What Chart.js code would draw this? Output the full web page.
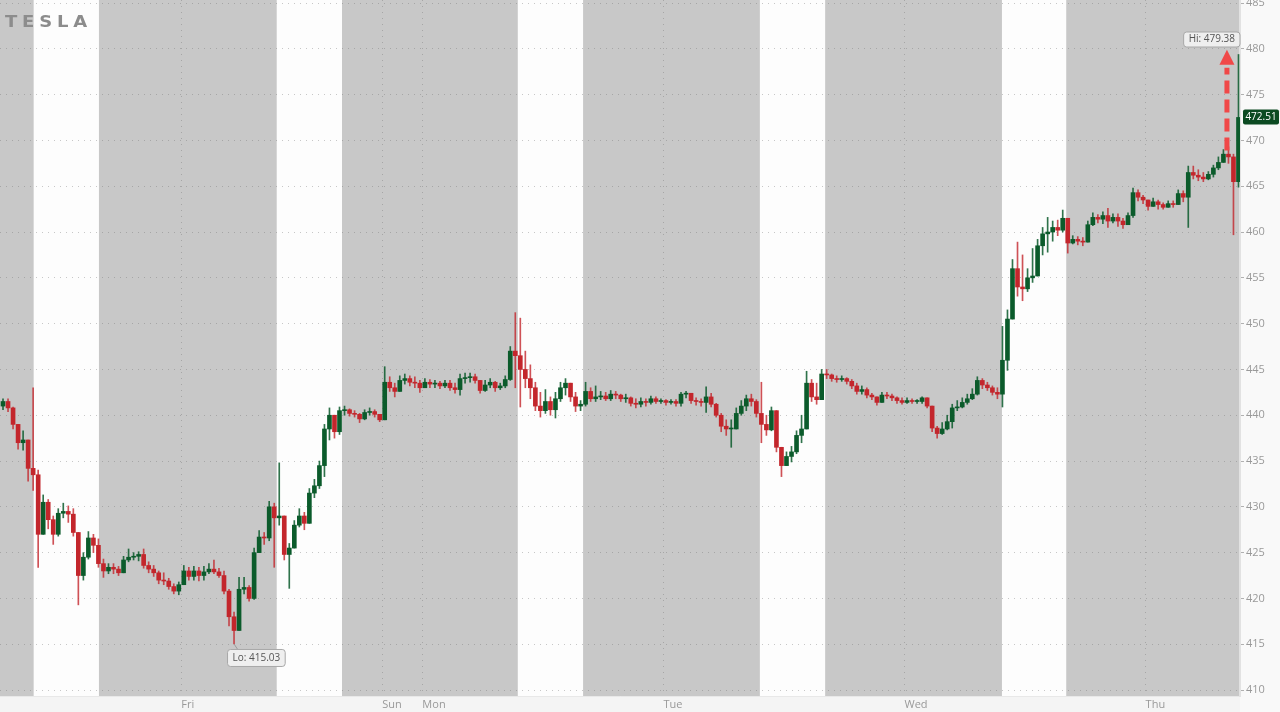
<!DOCTYPE html>
<html><head><meta charset="utf-8">
<script src="https://cdn.jsdelivr.net/npm/chart.js@4.4.1/dist/chart.umd.min.js"></script>
<style>
html,body{margin:0;padding:0;background:#f8f8f8;overflow:hidden;}
#wrap{position:relative;width:1280px;height:712px;}
#logo{position:absolute;left:5px;top:15px;font:700 15px/15px "DejaVu Sans",sans-serif;letter-spacing:4px;color:#8c8c8c;transform:scaleX(1.2);transform-origin:0 0;white-space:nowrap;}
</style></head><body>
<div id="wrap"><canvas id="c" width="1280" height="712"></canvas><div id="logo">TESLA</div></div>
<script>
// ---- data (30-minute candles, compressed trading hours; t=0 = Thursday 00:00 of previous week, weekend removed)
const startHour = 6, stepHours = 0.5, firstOpen = 441.0;
const closes = [
441.5,440.8,439.0,437.0,437.3,434.2,433.5,427.0,430.5,428.6,
427.0,429.3,429.5,429.2,427.2,422.5,424.5,426.6,425.8,423.8,
423.0,423.4,423.2,422.8,424.2,424.5,424.6,424.8,423.6,423.2,
422.8,422.0,421.9,421.3,420.8,421.5,423.0,422.4,423.0,422.5,
422.9,423.2,422.9,422.5,420.8,418.0,416.5,421.0,421.2,420.0,
425.0,426.7,426.6,430.0,428.8,429.0,424.8,425.5,428.0,429.0,
428.2,431.5,432.3,434.5,438.5,440.0,438.2,440.5,440.6,440.2,
440.1,439.6,440.3,440.4,440.1,439.5,443.6,443.0,442.6,443.8,
444.0,443.6,443.5,443.0,443.6,443.4,443.5,443.2,443.5,443.0,
442.8,444.0,444.1,444.2,443.8,442.7,443.3,443.6,443.0,443.2,
443.9,447.0,446.5,445.0,444.0,443.0,441.0,440.5,441.5,440.6,
441.8,443.0,443.5,442.0,441.0,441.2,442.6,441.8,442.0,442.1,
441.8,442.3,442.2,441.8,441.9,441.3,441.2,441.5,441.4,441.8,
441.5,441.6,441.4,441.5,441.3,442.3,442.4,441.6,441.5,441.4,
442.0,441.2,440.0,438.8,438.5,438.5,440.2,441.0,441.8,441.5,
440.2,439.0,438.4,440.5,436.5,434.5,435.5,436.0,437.8,438.5,
443.5,442.0,441.7,444.5,444.4,444.0,443.9,444.0,443.7,443.2,
442.6,442.8,442.2,442.0,441.4,442.2,442.1,441.9,441.6,441.4,
441.6,441.5,441.5,441.9,441.0,438.6,438.0,438.5,439.3,440.8,
440.9,441.4,441.8,442.3,443.8,443.3,443.0,442.5,442.3,446.0,
450.5,456.0,454.0,453.8,455.0,455.2,458.5,459.8,460.0,460.5,
460.2,461.5,458.8,459.2,459.0,458.9,460.8,461.6,461.4,461.8,
461.2,461.6,461.2,460.8,461.8,464.3,463.8,463.5,462.8,463.3,
463.0,462.7,463.1,463.0,464.2,463.8,466.5,466.2,466.0,465.8,
466.3,467.0,467.6,468.5,468.2,465.5,472.51];
const highs = [
441.8,441.8,440.9,439.0,438.3,436.0,443.0,434.0,431.3,430.8,
429.0,429.8,430.4,430.1,429.8,427.2,425.0,427.3,427.0,426.5,
424.3,423.8,423.8,423.5,424.6,425.4,425.0,425.1,425.4,424.0,
423.6,423.0,422.8,422.2,421.6,421.8,423.6,423.4,423.5,423.4,
423.5,423.8,424.2,423.3,423.0,421.0,418.5,422.3,422.3,421.4,
425.5,427.4,427.2,430.6,430.4,434.8,429.0,426.0,428.5,429.8,
429.4,432.0,433.0,435.0,439.0,440.8,440.0,440.9,441.0,440.7,
440.5,440.2,440.6,440.8,440.6,440.1,445.3,444.2,443.5,444.3,
444.5,444.3,444.2,443.8,444.0,443.9,443.8,443.7,443.8,443.8,
443.5,444.5,444.6,444.6,444.5,443.8,443.8,444.0,443.7,443.5,
444.3,447.5,451.2,450.6,447.0,445.5,443.6,442.5,442.8,442.0,
442.5,443.6,444.0,443.3,442.5,441.6,443.6,443.0,443.2,442.6,
442.5,442.7,442.6,442.3,442.3,442.0,441.8,441.9,441.8,442.1,
442.0,441.8,441.7,441.7,441.7,442.5,442.6,442.2,441.9,441.8,
443.1,442.4,441.3,440.2,439.5,439.5,440.8,441.6,442.2,442.3,
441.7,443.6,440.0,440.9,440.0,436.4,436.0,436.6,438.3,440.0,
444.8,443.9,443.5,445.0,445.0,444.5,444.3,444.3,444.1,443.9,
443.5,443.2,443.0,442.4,442.0,442.5,442.5,442.3,442.0,441.9,
441.9,441.8,441.7,442.0,441.9,441.0,438.8,439.2,440.0,441.2,
441.6,441.9,442.3,442.9,444.2,444.0,443.6,443.2,443.0,449.7,
451.5,457.0,458.9,457.5,456.0,458.2,459.2,460.5,461.6,461.2,
461.3,462.4,461.2,459.6,459.5,459.4,461.2,462.1,461.9,462.2,
462.6,462.0,462.0,461.5,462.1,464.8,464.6,464.0,463.5,463.7,
463.5,463.2,463.4,463.4,464.6,464.5,467.2,467.2,466.8,466.5,
466.6,467.3,468.2,469.0,469.3,468.5,479.38];
const lows = [
440.6,440.4,438.5,436.3,436.2,432.8,431.8,423.4,427.5,427.6,
425.9,426.8,428.8,428.3,426.8,419.3,422.0,424.3,425.0,423.4,
422.3,422.7,422.7,422.5,422.9,424.0,424.2,424.1,423.3,422.8,
422.4,421.6,421.5,421.0,420.5,420.4,421.8,422.0,422.0,421.9,
422.0,422.7,422.7,422.3,420.5,417.0,415.03,416.5,420.5,419.7,
419.9,425.0,425.9,426.3,423.4,428.0,424.2,421.1,425.5,427.8,
427.5,429.5,431.0,432.0,433.3,437.3,437.5,437.9,440.0,439.9,
439.8,439.2,439.5,440.0,439.8,439.3,439.5,442.6,442.0,442.6,
443.4,443.2,443.0,442.5,443.0,443.0,443.0,442.9,443.0,442.7,
442.4,442.2,443.5,443.6,443.5,442.4,442.6,443.0,442.6,442.8,
443.0,443.8,443.0,440.9,443.0,441.8,440.5,439.8,440.2,440.0,
439.7,441.5,442.2,441.5,440.4,440.5,441.0,441.5,441.5,441.7,
441.6,441.6,441.8,441.5,441.4,441.0,440.8,440.9,441.0,441.2,
441.3,441.3,441.1,441.2,441.0,441.0,441.9,441.3,441.1,441.0,
440.3,440.9,439.8,438.2,437.8,436.5,438.5,440.0,440.5,441.0,
439.8,437.0,437.8,438.3,436.0,433.3,434.5,434.9,435.8,437.0,
438.5,441.5,441.2,441.7,444.0,443.7,443.6,443.7,443.4,442.9,
442.3,442.3,441.9,441.7,441.1,441.4,441.8,441.6,441.3,441.2,
441.3,441.3,441.3,441.3,440.8,438.2,437.5,437.9,438.4,438.6,
440.5,440.8,441.2,441.7,442.2,442.9,442.7,442.2,441.8,440.9,
444.9,450.5,453.0,452.5,453.5,454.5,455.2,457.5,457.8,459.0,
459.6,460.0,457.7,458.7,458.6,458.5,458.9,460.7,461.0,460.9,
460.5,461.0,460.6,460.4,460.8,461.6,463.4,463.1,462.4,462.8,
462.5,462.5,462.7,462.7,463.0,463.3,460.5,465.8,465.6,465.5,
465.7,466.0,466.8,467.6,467.5,459.7,464.9];

// regular sessions (white bands), in compressed hours
const sessionStarts = [9.3, 33.5, 57.5, 81.6, 105.7];
const sessionEnds   = [15.8, 40, 64, 88.1, 112.1];
// day ticks
const dayTickHours  = [24, 44, 48, 72, 96, 120];
const dayTickLabels = ['Fri', 'Sun', 'Mon', 'Tue', 'Wed', 'Thu'];
const yTickStep = 5;
// callouts
const lowValue = 415.03, highValue = 479.38, lastPrice = 472.51;
const arrowHour = 128.1, arrowFrom = 468.9, arrowTo = 479.9;

// ---- build datasets
const opens = closes.map((c, i) => i === 0 ? firstOpen : closes[i - 1]);
const hours = closes.map((c, i) => startHour + stepHours * (i + 0.5));
const isUp = closes.map((c, i) => c >= opens[i]);
const bodyData = closes.map((c, i) => ({x: hours[i], y: [opens[i], c]}));
const wickData = closes.map((c, i) => ({x: hours[i], y: [Math.min(lows[i], opens[i], c), Math.max(highs[i], opens[i], c)]}));
const lowIdx = lows.indexOf(Math.min(...lows));
const highIdx = highs.indexOf(Math.max(...highs));

const GREEN = '#0b5b2b', RED = '#c3262c';
const GREEN_W = 'rgba(11,91,43,0.85)', RED_W = 'rgba(195,38,44,0.8)';

function roundRect(ctx, x, y, w, h, r) {
  ctx.beginPath();
  ctx.moveTo(x + r, y); ctx.lineTo(x + w - r, y); ctx.quadraticCurveTo(x + w, y, x + w, y + r);
  ctx.lineTo(x + w, y + h - r); ctx.quadraticCurveTo(x + w, y + h, x + w - r, y + h);
  ctx.lineTo(x + r, y + h); ctx.quadraticCurveTo(x, y + h, x, y + h - r);
  ctx.lineTo(x, y + r); ctx.quadraticCurveTo(x, y, x + r, y); ctx.closePath();
}

const bandsPlugin = {
  id: 'bands',
  beforeDraw(chart) {
    const {ctx, chartArea: a, scales: {x}} = chart;
    ctx.save();
    ctx.fillStyle = '#f9f9f9'; ctx.fillRect(0, 0, chart.width, chart.height);
    ctx.fillStyle = '#f4f4f4'; ctx.fillRect(0, a.bottom, a.right, chart.height - a.bottom);
    ctx.fillStyle = '#c8c8c8'; ctx.fillRect(a.left, a.top, a.right - a.left, a.bottom - a.top);
    ctx.fillStyle = '#fdfdfd';
    sessionStarts.forEach((s, i) => {
      const x0 = x.getPixelForValue(s), x1 = x.getPixelForValue(sessionEnds[i]);
      ctx.fillRect(x0, a.top, x1 - x0, a.bottom - a.top);
    });
    ctx.restore();
  }
};

const calloutPlugin = {
  id: 'callouts',
  afterDraw(chart) {
    const {ctx, scales: {x, y}} = chart;
    ctx.save();
    ctx.font = '10px "Open Sans", sans-serif';
    ctx.textBaseline = 'middle';
    // low
    const lx = x.getPixelForValue(hours[lowIdx]), ly = y.getPixelForValue(lowValue);
    ctx.strokeStyle = '#9a9a9a'; ctx.lineWidth = 1;
    ctx.beginPath(); ctx.moveTo(lx, ly); ctx.lineTo(lx + 4, ly + 6); ctx.stroke();
    let txt = 'Lo: ' + lowValue.toFixed(2);
    let w = ctx.measureText(txt).width + 10;
    roundRect(ctx, lx - 6.5, ly + 5.5, w, 17, 3);
    ctx.fillStyle = '#efefef'; ctx.fill(); ctx.strokeStyle = '#a8a8a8'; ctx.stroke();
    ctx.fillStyle = '#555'; ctx.textAlign = 'left'; ctx.fillText(txt, lx - 1.5, ly + 14.5);
    // high
    const hx = x.getPixelForValue(hours[highIdx]), hy = y.getPixelForValue(highValue);
    txt = 'Hi: ' + highValue.toFixed(2);
    w = ctx.measureText(txt).width + 10;
    roundRect(ctx, hx + 1.5 - w, hy - 22.5, w, 15, 3);
    ctx.fillStyle = '#efefef'; ctx.fill(); ctx.strokeStyle = '#a8a8a8'; ctx.stroke();
    ctx.fillStyle = '#555'; ctx.fillText(txt, hx + 1.5 - w + 5, hy - 15);
    // arrow
    const ax = x.getPixelForValue(arrowHour), ay0 = y.getPixelForValue(arrowFrom), ay1 = y.getPixelForValue(arrowTo);
    ctx.strokeStyle = '#f04848'; ctx.lineWidth = 5; ctx.setLineDash([13, 6]);
    ctx.beginPath(); ctx.moveTo(ax, ay0); ctx.lineTo(ax, ay1 + 18); ctx.stroke();
    ctx.setLineDash([]);
    ctx.fillStyle = '#f04848';
    ctx.beginPath(); ctx.moveTo(ax, ay1); ctx.lineTo(ax + 7.5, ay1 + 15); ctx.lineTo(ax - 7.5, ay1 + 15); ctx.closePath(); ctx.fill();
    // last price tag
    const py = y.getPixelForValue(lastPrice);
    roundRect(ctx, 1243, py - 8, 36, 15, 2);
    ctx.fillStyle = '#0c4a22'; ctx.fill();
    ctx.fillStyle = '#ffffff'; ctx.textAlign = 'center';
    ctx.fillText(lastPrice.toFixed(2), 1261, py - 0.5);
    ctx.restore();
  }
};

const gridColor = 'rgba(110,110,110,0.38)';
new Chart(document.getElementById('c'), {
  type: 'bar',
  data: {
    datasets: [
      {label: 'body', data: bodyData, order: 1, grouped: false, barThickness: 4, minBarLength: 1,
       backgroundColor: ctx => isUp[ctx.dataIndex] ? GREEN : RED},
      {label: 'wick', data: wickData, order: 2, grouped: false, barThickness: 1, minBarLength: 1,
       backgroundColor: ctx => isUp[ctx.dataIndex] ? GREEN_W : RED_W}
    ]
  },
  options: {
    responsive: false, animation: false, devicePixelRatio: 1,
    layout: {padding: 0},
    plugins: {legend: {display: false}, tooltip: {enabled: false}},
    scales: {
      x: {
        type: 'linear', min: 5.95, max: 129.4, offset: false,
        grid: {color: gridColor, drawTicks: false, offset: false},
        border: {display: true, color: '#e8e8e8', width: 1, dash: [1, 5]},
        ticks: {color: '#999', font: {size: 11, family: '"Open Sans", sans-serif'}, padding: 2,
                align: 'start', maxRotation: 0, autoSkip: false,
                callback: v => { const i = dayTickHours.indexOf(v); return i >= 0 ? dayTickLabels[i] : ''; }},
        afterBuildTicks: s => { s.ticks = dayTickHours.map(v => ({value: v})); },
        afterFit: s => { s.height = 16; s.paddingLeft = 0; s.paddingRight = 0; s.paddingTop = 0; s.paddingBottom = 0; }
      },
      y: {
        position: 'right', min: 409.35, max: 485.33,
        grid: {color: gridColor, drawTicks: true, tickLength: 4, tickColor: '#b0b0b0', tickBorderDash: []},
        border: {display: true, color: '#e2e2e2', width: 2, dash: [1, 5]},
        ticks: {stepSize: yTickStep, includeBounds: false, color: '#999', padding: 2,
                font: {size: 11, family: '"Open Sans", sans-serif'}},
        afterFit: s => { s.width = 40; s.paddingTop = 0; s.paddingBottom = 0; s.paddingLeft = 0; s.paddingRight = 0; }
      }
    }
  },
  plugins: [bandsPlugin, calloutPlugin]
});
</script>
</body></html>
